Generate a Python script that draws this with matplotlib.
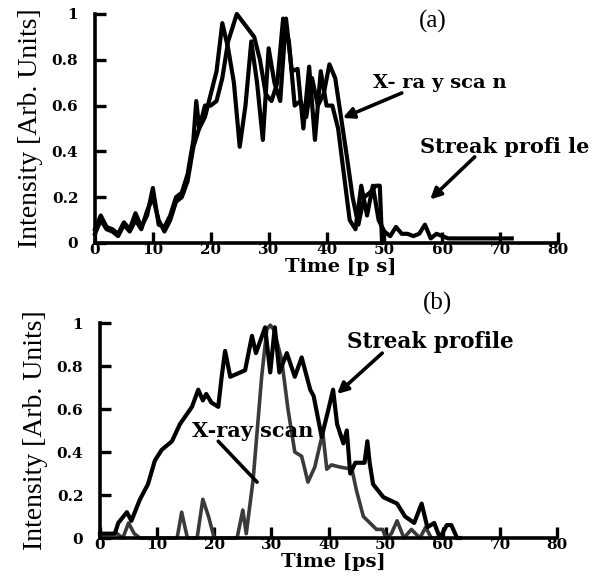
import numpy as np
import matplotlib.pyplot as plt

# panel (a)
t_xray_a = [0, 1, 2, 3, 4, 5, 6, 7, 8, 9, 10, 11, 12, 13, 14, 15, 16, 17, 17.5, 18, 19, 20, 21, 22, 23,
            24.5, 26, 27.5, 28.5, 29.5, 30.5, 31.5, 32.5, 33.5, 34.5, 35.5, 36.5, 37.5, 38.5, 39.5,
            40.5, 41.5, 42.5, 43.5, 44.5, 45.5, 46.5, 47.5, 48.5, 49.2, 49.6]
v_xray_a = [0.06, 0.12, 0.07, 0.06, 0.04, 0.09, 0.06, 0.13, 0.07, 0.12, 0.24, 0.08, 0.07, 0.12, 0.2, 0.22,
            0.3, 0.45, 0.62, 0.5, 0.6, 0.6, 0.62, 0.72, 0.88, 1.0, 0.95, 0.9, 0.8, 0.65, 0.62, 0.7, 0.98,
            0.88, 0.6, 0.62, 0.55, 0.72, 0.6, 0.65, 0.78, 0.72, 0.55, 0.38, 0.2, 0.08, 0.2, 0.22, 0.25,
            0.25, 0.0]
t_streak_a = [0, 1, 2, 3, 4, 5, 6, 7, 8, 9, 10, 11, 12, 13, 14, 15, 16, 17, 18, 19, 20, 21, 22, 23, 24,
              25, 26, 27, 28, 29, 30, 31, 32, 33, 34, 35, 36, 37, 38, 39, 40, 41, 42, 43, 44, 45, 46,
              47, 48, 49, 50, 51, 52, 53, 54, 55, 56, 57, 58, 59, 60, 61, 62, 64, 66, 68, 70, 72]
v_streak_a = [0.04, 0.1, 0.06, 0.05, 0.03, 0.08, 0.05, 0.1, 0.06, 0.14, 0.2, 0.1, 0.05, 0.1, 0.18, 0.2,
              0.27, 0.42, 0.5, 0.55, 0.65, 0.75, 0.96, 0.85, 0.7, 0.42, 0.6, 0.88, 0.7, 0.45, 0.85, 0.7,
              0.62, 0.98, 0.75, 0.76, 0.5, 0.77, 0.45, 0.75, 0.6, 0.6, 0.5, 0.3, 0.1, 0.06, 0.25, 0.12,
              0.25, 0.1, 0.05, 0.03, 0.07, 0.04, 0.04, 0.03, 0.04, 0.08, 0.02, 0.04, 0.03, 0.02, 0.02,
              0.02, 0.02, 0.02, 0.02, 0.02]

# panel (b)
t_xray_b = [0, 3, 4, 5, 6, 7, 13.5, 14.3, 15.3, 17, 18, 19, 20, 24, 25, 25.6, 26.8, 28.3, 29.2, 29.8,
            30.4, 31.8, 32.9, 34.1, 35.3, 36.4, 37.6, 39, 39.7, 40.5, 42, 44.1, 44.9, 46.1, 48.4, 49.5,
            50, 51, 52, 53.2, 54.5, 56, 57, 58, 59.5, 60]
v_xray_b = [0.02, 0.02, 0.0, 0.07, 0.02, 0.0, 0.0, 0.12, 0.0, 0.0, 0.18, 0.1, 0.0, 0.0, 0.13, 0.02, 0.27,
            0.75, 0.97, 0.99, 0.97, 0.83, 0.6, 0.4, 0.38, 0.26, 0.33, 0.49, 0.32, 0.34, 0.33, 0.32, 0.22,
            0.1, 0.04, 0.04, 0.0, 0.02, 0.08, 0.0, 0.04, 0.0, 0.05, 0.0, 0.0, 0.0]
t_streak_b = [0, 2.6, 3.2, 4.7, 5.5, 7, 8.4, 9.6, 10.8, 12.6, 14, 16.1, 17.2, 18, 18.6, 19.5, 20.7, 21.3,
              21.9, 22.8, 25.4, 26.6, 27.3, 28.9, 29.8, 30.6, 31.4, 32.7, 34.1, 35.3, 36.8, 37.4, 38.8,
              40, 40.8, 41.5, 42.6, 43.2, 43.8, 44.7, 46.3, 46.8, 47.2, 47.8, 49.6, 52, 53.4, 55, 56.3,
              57.3, 58.5, 59.5, 60.7, 61.5, 62.5, 63]
v_streak_b = [0.02, 0.02, 0.07, 0.12, 0.08, 0.18, 0.25, 0.36, 0.41, 0.45, 0.53, 0.61, 0.69, 0.64, 0.67,
              0.63, 0.61, 0.75, 0.87, 0.75, 0.78, 0.94, 0.86, 0.98, 0.77, 0.98, 0.77, 0.86, 0.75, 0.84,
              0.69, 0.66, 0.47, 0.6, 0.69, 0.53, 0.44, 0.5, 0.3, 0.35, 0.35, 0.45, 0.35, 0.25, 0.19,
              0.16, 0.1, 0.07, 0.16, 0.05, 0.07, 0.0, 0.06, 0.06, 0.0, 0.0]

x_ticks = [0, 10, 20, 30, 40, 50, 60, 70, 80]
y_ticks = [0, 0.2, 0.4, 0.6, 0.8, 1]
y_ticklabels = ["0", "0.2", "0.4", "0.6", "0.8", "1"]

times = "Liberation Serif"
bold = "DejaVu Serif"

fig = plt.figure(figsize=(6.03, 5.82), dpi=100)
ax_a = fig.add_axes([0.1575, 0.5825, 0.768, 0.3935])
ax_b = fig.add_axes([0.1658, 0.0756, 0.758, 0.3694])


def style(ax, xlabel, xl_pos):
    ax.set_xlim(0, 80)
    ax.set_ylim(0, 1.0)
    for s in ["top", "right"]:
        ax.spines[s].set_visible(False)
    for s in ["left", "bottom"]:
        ax.spines[s].set_linewidth(2.6)
    ax.set_xticks(x_ticks)
    ax.set_yticks(y_ticks)
    ax.set_yticklabels(y_ticklabels)
    ax.tick_params(direction="in", length=8, width=2.4, labelsize=11)
    ax.tick_params(axis="x", pad=0)
    ax.tick_params(axis="y", pad=12)
    for lab in ax.get_xticklabels() + ax.get_yticklabels():
        lab.set_fontfamily(bold)
        lab.set_fontweight("bold")
    ax.set_xlabel(xlabel, fontfamily=bold, fontweight="bold", fontsize=14, labelpad=1, x=xl_pos)
    ax.set_ylabel("Intensity [Arb. Units]", fontfamily=times, fontsize=20, labelpad=6)


def arrow(ax, tip, start, head=True):
    ax.annotate("", xy=tip, xytext=start,
                arrowprops=dict(arrowstyle="-|>" if head else "-", color="black", lw=2.6,
                                shrinkA=0, shrinkB=0, mutation_scale=16))


ax_a.plot(t_streak_a, v_streak_a, color="black", lw=3.0, clip_on=False, solid_joinstyle="round")
ax_a.plot(t_xray_a, v_xray_a, color="black", lw=3.0, clip_on=False, solid_joinstyle="round")
style(ax_a, "Time [p s]", 0.53)
ax_a.text(58.4, 0.966, "(a)", fontfamily=times, fontsize=18, ha="center", va="center")
ax_a.text(59.6, 0.70, "X- ra y sca n", fontfamily=bold, fontweight="bold", fontsize=14,
          ha="center", va="center")
arrow(ax_a, (42.8, 0.546), (53, 0.655))
ax_a.text(70.8, 0.42, "Streak profi le", fontfamily=bold, fontweight="bold", fontsize=15,
          ha="center", va="center")
arrow(ax_a, (57.9, 0.19), (65.6, 0.376))

ax_b.plot(t_xray_b, v_xray_b, color="#3a3a3a", lw=2.6, clip_on=False, solid_joinstyle="round")
ax_b.plot(t_streak_b, v_streak_b, color="black", lw=3.0, clip_on=False, solid_joinstyle="round")
style(ax_b, "Time [ps]", 0.51)
ax_b.text(59, 1.09, "(b)", fontfamily=times, fontsize=18, ha="center", va="center")
ax_b.text(57.8, 0.91, "Streak profile", fontfamily=bold, fontweight="bold", fontsize=15.5,
          ha="center", va="center")
arrow(ax_b, (41.5, 0.67), (49.4, 0.86))
ax_b.text(26.8, 0.50, "X-ray scan", fontfamily=bold, fontweight="bold", fontsize=15,
          ha="center", va="center")
arrow(ax_b, (27.5, 0.26), (20.7, 0.45), head=False)

fig.savefig("out.png", dpi=100)
